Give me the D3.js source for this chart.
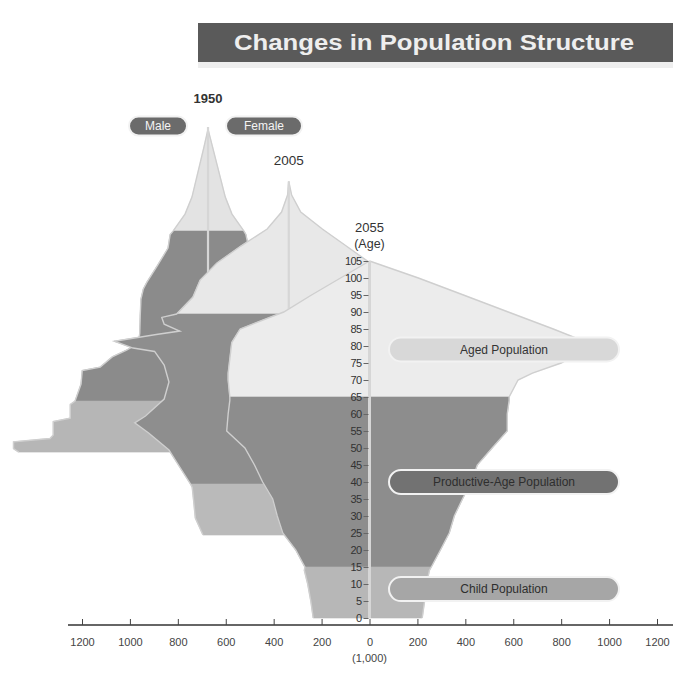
<!DOCTYPE html>
<html><head><meta charset="utf-8">
<script src="https://cdn.jsdelivr.net/npm/d3@7"></script>
<style>body{margin:0;background:#fff}svg{display:block}</style>
</head><body>
<svg id="c" width="673" height="686"></svg>
<script>
// ---------------- data ----------------
const years = ["1950", "2005", "2055"];

const ages1950   = [0,1,3,4,5,9,10,14,15,20,24,25,28,30,32,35,40,45,48,50,55,60,64,65,70,75,80,85,90,95];
const male1950   = [790,812,812,660,646,646,575,575,555,530,525,450,400,340,290,285,283,280,270,255,210,167,158,146,96,67,50,33,16,0];
const female1950 = [765,790,790,640,628,628,560,560,545,535,525,480,440,410,380,345,292,262,250,228,195,170,158,150,100,72,54,36,18,0];

const ages2005   = [0,5,10,14,15,20,25,30,33,35,40,45,50,54,55,57,59,60,62,64,65,70,75,80,85,90,95,100,104];
const male2005   = [358,390,397,403,410,455,500,585,643,598,520,500,520,560,650,728,553,455,520,530,468,400,370,300,200,90,30,5,0];
const female2005 = [340,372,378,385,392,435,480,565,625,585,510,495,515,560,660,740,570,475,525,515,495,450,410,340,240,140,50,12,0];

const ages2055   = [0,5,10,14,15,20,25,30,35,40,45,50,55,60,64,65,70,72,75,78,81,85,90,95,100,105];
const male2055   = [235,245,258,272,270,308,362,385,404,446,480,520,596,590,583,583,590,590,585,580,575,540,358,242,121,0];
const female2055 = [220,230,238,250,258,296,333,354,388,425,450,512,575,575,583,583,620,680,800,880,910,767,579,392,204,0];

const xTickValues = [-1200,-1000,-800,-600,-400,-200,0,200,400,600,800,1000,1200];
const ageTickValues = [0,5,10,15,20,25,30,35,40,45,50,55,60,65,70,75,80,85,90,95,100,105];
const bandNames = ["Aged Population", "Productive-Age Population", "Child Population"];
const sexNames = ["Male", "Female"];

// ---------------- layout ----------------
const svg = d3.select("#c");
const x = d3.scaleLinear().domain([-1200, 1200]).range([82, 657]);
const y = d3.scaleLinear().domain([0, 105]).range([618, 261]);

const stepX = -337;   // horizontal shift (axis units) between successive pyramids
const stepAge = 24.4; // vertical shift (years) between successive pyramids

const pyramids = [
  {year: years[0], ages: ages1950, male: male1950, female: female1950, k: 2,
   col: {aged: "#e3e3e3", prod: "#8b8b8b", child: "#b6b6b6"}},
  {year: years[1], ages: ages2005, male: male2005, female: female2005, k: 1,
   col: {aged: "#e8e8e8", prod: "#8e8e8e", child: "#bababa"}},
  {year: years[2], ages: ages2055, male: male2055, female: female2055, k: 0,
   col: {aged: "#ececec", prod: "#8d8d8d", child: "#b7b7b7"}}
];

const gP = svg.append("g");

pyramids.forEach(p => {
  const off = stepX * p.k, aOff = stepAge * p.k;
  const top = p.ages[p.ages.length - 1];
  const bands = [
    {lo: 65, hi: top, c: p.col.aged},
    {lo: 15, hi: 65, c: p.col.prod},
    {lo: 0, hi: 15, c: p.col.child}
  ];
  const g = gP.append("g");
  [{vals: p.male, s: -1}, {vals: p.female, s: 1}].forEach(side => {
    const pts = p.ages.map((a, i) => [a, side.vals[i]]);
    bands.forEach(b => {
      const bp = pts.filter(d => d[0] >= b.lo && d[0] <= b.hi);
      const area = d3.area()
        .y(d => y(d[0] + aOff))
        .x0(() => x(off))
        .x1(d => x(off + side.s * d[1]))
        .curve(d3.curveLinear);
      g.append("path").attr("d", area(bp)).attr("fill", b.c)
        .attr("stroke", b.c).attr("stroke-width", 0.6);
    });
    const line = d3.line().y(d => y(d[0] + aOff)).x(d => x(off + side.s * d[1]));
    g.append("path").attr("d", line(pts)).attr("fill", "none")
      .attr("stroke", "#cfcfcf").attr("stroke-width", 1.4);
  });
  // center line
  g.append("line")
    .attr("x1", x(off)).attr("x2", x(off))
    .attr("y1", p.k === 2 ? y(top + aOff) - 2 : y(top + aOff))
    .attr("y2", y(aOff))
    .attr("stroke", "#d6d6d6").attr("stroke-width", p.k === 0 ? 3 : 2.2);
});

// ---------------- axes ----------------
svg.append("line").attr("x1", 68).attr("x2", 673).attr("y1", 625).attr("y2", 625)
  .attr("stroke", "#333").attr("stroke-width", 1.5);
const xAxis = d3.axisBottom(x).tickValues(xTickValues)
  .tickFormat(d => String(Math.abs(d))).tickSizeInner(-6).tickSizeOuter(0).tickPadding(13);
const gx = svg.append("g").attr("transform", "translate(0,625)").call(xAxis);
gx.select(".domain").remove();
gx.selectAll("line").attr("stroke", "#444");
gx.selectAll("text").attr("font-family", "Liberation Sans, Arial, sans-serif")
  .attr("font-size", 11).attr("fill", "#444");
svg.append("text").attr("x", x(0)).attr("y", 662).attr("text-anchor", "middle")
  .attr("font-family", "Liberation Sans, Arial, sans-serif").attr("font-size", 11)
  .attr("fill", "#444").text("(1,000)");

const yAxis = d3.axisLeft(y).tickValues(ageTickValues).tickSize(5).tickPadding(2);
const gy = svg.append("g").attr("transform", `translate(${x(0) - 1},0)`).call(yAxis);
gy.select(".domain").remove();
gy.selectAll("line").attr("stroke", "#666");
gy.selectAll("text").attr("font-family", "Liberation Sans, Arial, sans-serif")
  .attr("font-size", 11).attr("letter-spacing", -0.6).attr("fill", "#333");

// ---------------- year labels ----------------
const fam = "Liberation Sans, Arial, sans-serif";
svg.append("text").attr("x", x(stepX * 2)).attr("y", 103).attr("text-anchor", "middle")
  .attr("font-family", fam).attr("font-size", 13).attr("font-weight", "bold")
  .attr("fill", "#333").text(years[0]);
svg.append("text").attr("x", x(stepX)).attr("y", 165).attr("text-anchor", "middle")
  .attr("font-family", fam).attr("font-size", 13.5).attr("fill", "#333").text(years[1]);
svg.append("text").attr("x", x(0)).attr("y", 232).attr("text-anchor", "middle")
  .attr("font-family", fam).attr("font-size", 13).attr("fill", "#333").text(years[2]);
svg.append("text").attr("x", x(0)).attr("y", 248).attr("text-anchor", "middle")
  .attr("font-family", fam).attr("font-size", 12.5).attr("fill", "#333").text("(Age)");

// Male / Female pills
function pill(cx, cy, w, h, fill, txt, tc, fs) {
  svg.append("rect").attr("x", cx - w / 2).attr("y", cy - h / 2).attr("width", w).attr("height", h)
    .attr("rx", h / 2).attr("fill", fill).attr("stroke", "#f2f2f2").attr("stroke-width", 2);
  svg.append("text").attr("x", cx).attr("y", cy + fs * 0.36).attr("text-anchor", "middle")
    .attr("font-family", fam).attr("font-size", fs).attr("fill", tc).text(txt);
}
pill(x(stepX * 2) - 50, 126, 58, 19, "#6b6b6b", sexNames[0], "#f4f4f4", 12);
pill(x(stepX * 2) + 56, 126, 76, 19, "#6b6b6b", sexNames[1], "#f4f4f4", 12);

// band labels
pill(504, y(79), 230, 24, "#d8d8d8", bandNames[0], "#333", 12);
pill(504, y(40), 230, 24, "#727272", bandNames[1], "#2e2e2e", 12);
pill(504, y(8.5), 230, 24, "#a6a6a6", bandNames[2], "#2e2e2e", 12);

// ---------------- title ----------------
svg.append("rect").attr("x", 198).attr("y", 62).attr("width", 475).attr("height", 6).attr("fill", "#eeeeee");
svg.append("rect").attr("x", 198).attr("y", 23).attr("width", 475).attr("height", 39).attr("fill", "#5a5a5a");
svg.append("text").attr("x", 434).attr("y", 50).attr("text-anchor", "middle")
  .attr("font-family", fam).attr("font-size", 22).attr("font-weight", "bold")
  .attr("fill", "#eeeeee").attr("textLength", 400).attr("lengthAdjust", "spacingAndGlyphs")
  .text("Changes in Population Structure");
</script>
</body></html>
